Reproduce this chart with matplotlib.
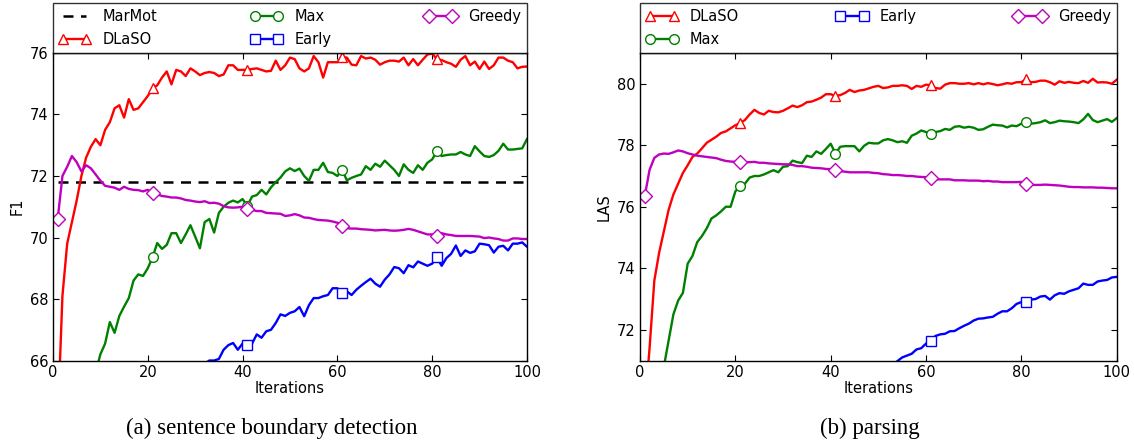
"""
Learning curves for sentence boundary detection (F1) and parsing (LAS).
Two panels, legend boxed above each axes, captions underneath.
"""
import numpy as np
import matplotlib
matplotlib.use("Agg")
import matplotlib.pyplot as plt

NAN = np.nan
ITERS = list(range(1, 101))

# ---- (a) sentence boundary detection, F1 ----
SBD_MARMOT = [71.8] * 100
SBD_DLASO = [
    64.0, 68.1, 69.8, 70.5, 71.2, 72.0, 72.6, 72.95, 73.2, 73.0,
    73.5, 73.75, 74.2, 74.3, 73.9, 74.5, 74.15, 74.2, 74.4, 74.6,
    74.85, 74.95, 75.2, 75.4, 74.98, 75.45, 75.4, 75.25, 75.5, 75.4,
    75.28, 75.35, 75.38, 75.35, 75.25, 75.3, 75.6, 75.6, 75.45, 75.45,
    75.45, 75.48, 75.5, 75.45, 75.4, 75.42, 75.75, 75.45, 75.6, 75.85,
    75.8, 75.5, 75.4, 75.5, 75.9, 75.7, 75.2, 75.7, 75.7, 75.7,
    75.87, 75.85, 75.62, 75.6, 75.9, 75.82, 75.85, 75.78, 75.62, 75.7,
    75.75, 75.75, 75.72, 75.85, 75.6, 75.8, 75.6, 75.78, 75.95, 75.98,
    75.8, 75.77, 75.7, 75.65, 75.55, 75.78, 75.9, 75.6, 75.72, 75.48,
    75.72, 75.48, 75.6, 75.85, 75.85, 75.75, 75.7, 75.5, 75.55, 75.56,
]
SBD_MAX = [
    NAN, NAN, NAN, NAN, NAN, NAN, NAN, NAN, 65.6, 66.2,
    66.55, 67.25, 66.9, 67.45, 67.75, 68.03, 68.6, 68.8, 68.75, 69.0,
    69.35, 69.82, 69.63, 69.76, 70.14, 70.14, 69.82, 70.1, 70.4, 70.03,
    69.65, 70.5, 70.6, 70.16, 70.8, 71.0, 71.13, 71.2, 71.14, 71.25,
    71.03, 71.33, 71.38, 71.55, 71.4, 71.63, 71.8, 71.95, 72.15, 72.25,
    72.16, 72.24, 72.0, 71.84, 72.2, 72.2, 72.43, 72.13, 72.1, 72.0,
    72.2, 71.86, 71.94, 72.0, 72.05, 72.32, 72.2, 72.4, 72.3, 72.5,
    72.35, 72.2, 72.0, 72.38, 72.2, 72.1, 72.35, 72.2, 72.43, 72.54,
    72.8, 72.65, 72.68, 72.7, 72.7, 72.78, 72.7, 72.65, 72.97, 72.8,
    72.65, 72.62, 72.68, 72.82, 73.05, 72.86, 72.86, 72.88, 72.9, 73.2,
]
SBD_EARLY = [
    NAN, NAN, NAN, NAN, NAN, NAN, NAN, NAN, NAN, NAN,
    NAN, NAN, NAN, NAN, NAN, NAN, NAN, NAN, NAN, NAN,
    NAN, NAN, NAN, NAN, NAN, NAN, NAN, NAN, NAN, NAN,
    NAN, 65.9, 66.0, 66.0, 66.05, 66.35, 66.5, 66.57, 66.35, 66.55,
    66.5, 66.55, 66.85, 66.74, 66.95, 67.0, 67.22, 67.5, 67.45, 67.55,
    67.6, 67.74, 67.44, 67.8, 68.03, 68.03, 68.09, 68.13, 68.35, 68.35,
    68.2, 68.25, 68.13, 68.3, 68.43, 68.55, 68.66, 68.5, 68.4, 68.63,
    68.8, 69.04, 69.0, 68.84, 69.1, 69.03, 69.22, 69.15, 69.08, 69.15,
    69.35, 69.08, 69.33, 69.47, 69.74, 69.4, 69.58, 69.5, 69.55, 69.8,
    69.78, 69.75, 69.51, 69.7, 69.73, 69.58, 69.8, 69.8, 69.84, 69.7,
]
SBD_GREEDY = [
    70.6, 72.0, 72.3, 72.65, 72.45, 72.15, 72.35, 72.25, 72.05, 71.85,
    71.68, 71.65, 71.62, 71.55, 71.65, 71.58, 71.55, 71.54, 71.5, 71.55,
    71.45, 71.4, 71.35, 71.33, 71.3, 71.3, 71.27, 71.22, 71.2, 71.17,
    71.15, 71.18, 71.12, 71.13, 71.1, 71.02, 70.98, 70.97, 70.98, 71.0,
    70.92, 70.9, 70.86, 70.86, 70.8, 70.79, 70.78, 70.77, 70.7, 70.72,
    70.76, 70.72, 70.65, 70.64, 70.6, 70.57, 70.56, 70.55, 70.52, 70.48,
    70.38, 70.3, 70.29, 70.29, 70.27, 70.26, 70.25, 70.23, 70.24, 70.25,
    70.23, 70.22, 70.23, 70.25, 70.28, 70.25, 70.2, 70.15, 70.1, 70.1,
    70.05, 70.14, 70.1, 70.08, 70.05, 70.05, 70.05, 70.05, 70.04, 70.03,
    69.98, 70.0, 69.97, 69.95, 69.9, 69.9, 69.97, 69.97, 69.95, 69.95,
]

# ---- (b) parsing, LAS ----
PAR_DLASO = [
    69.5, 71.4, 73.6, 74.5, 75.2, 75.9, 76.4, 76.75, 77.1, 77.35,
    77.62, 77.73, 77.9, 78.08, 78.18, 78.28, 78.4, 78.45, 78.55, 78.65,
    78.72, 78.82, 79.0, 79.15, 79.05, 79.0, 79.12, 79.08, 79.07, 79.12,
    79.2, 79.29, 79.24, 79.3, 79.4, 79.42, 79.48, 79.55, 79.66, 79.66,
    79.6, 79.63, 79.7, 79.8, 79.73, 79.78, 79.8, 79.85, 79.9, 79.93,
    79.86, 79.88, 79.93, 79.93, 79.95, 79.93, 79.83, 79.93, 79.9, 79.97,
    79.95, 79.86, 79.84, 79.97, 80.02, 80.02, 80.0, 80.0, 80.02, 79.98,
    80.02, 79.98, 80.02, 79.99, 79.95, 79.98, 80.02, 80.0, 80.05, 80.05,
    80.15, 80.05, 80.06, 80.1, 80.1, 80.05, 79.97, 80.08, 80.03, 80.06,
    80.03, 80.02, 80.09, 80.03, 80.16, 80.04, 80.05, 80.04, 80.0, 80.13,
]
PAR_MAX = [
    NAN, NAN, NAN, NAN, 70.8, 71.65, 72.5, 72.95, 73.2, 74.15,
    74.4, 74.85, 75.05, 75.3, 75.62, 75.72, 75.85, 76.0, 76.0, 76.5,
    76.67, 76.75, 76.95, 77.0, 77.0, 77.05, 77.12, 77.19, 77.12, 77.3,
    77.32, 77.5, 77.45, 77.42, 77.66, 77.62, 77.8, 77.72, 77.88, 78.05,
    77.73, 77.95, 77.97, 77.97, 77.97, 77.8, 77.98, 78.08, 78.06, 78.06,
    78.16, 78.2, 78.16, 78.1, 78.13, 78.08, 78.31, 78.38, 78.48, 78.43,
    78.38, 78.43, 78.46, 78.53, 78.5, 78.6, 78.62, 78.57, 78.6, 78.57,
    78.5, 78.52, 78.6, 78.67, 78.65, 78.64, 78.58, 78.64, 78.62, 78.7,
    78.75, 78.7, 78.72, 78.75, 78.81, 78.72, 78.75, 78.8, 78.78, 78.77,
    78.75, 78.72, 78.84, 79.02, 78.82, 78.75, 78.8, 78.85, 78.76, 78.88,
]
PAR_EARLY = [NAN] * 53 + [
    70.98, 71.1, 71.16, 71.22, 71.36, 71.4, 71.55, 71.65, 71.8, 71.85,
    71.87, 71.95, 71.96, 72.05, 72.13, 72.2, 72.3, 72.36, 72.37, 72.4,
    72.42, 72.52, 72.6, 72.6, 72.7, 72.84, 72.9, 72.9, 72.98, 73.0,
    73.08, 73.1, 72.98, 73.12, 73.19, 73.17, 73.25, 73.3, 73.35, 73.5,
    73.46, 73.46, 73.57, 73.6, 73.62, 73.7, 73.72,
]
PAR_GREEDY = [
    76.35, 77.2, 77.59, 77.7, 77.73, 77.72, 77.77, 77.83, 77.8, 77.74,
    77.7, 77.66, 77.64, 77.62, 77.6, 77.58, 77.53, 77.49, 77.47, 77.46,
    77.46, 77.45, 77.45, 77.46, 77.43, 77.43, 77.41, 77.4, 77.39, 77.38,
    77.38, 77.36, 77.32, 77.32, 77.3, 77.27, 77.26, 77.25, 77.23, 77.22,
    77.21, 77.16, 77.14, 77.12, 77.12, 77.12, 77.12, 77.12, 77.1, 77.09,
    77.06, 77.05, 77.03, 77.03, 77.02, 77.0, 77.0, 76.98, 76.97, 76.96,
    76.94, 76.89, 76.89, 76.89, 76.89, 76.86, 76.86, 76.86, 76.85, 76.85,
    76.85, 76.83, 76.84, 76.82, 76.82, 76.8, 76.8, 76.8, 76.8, 76.81,
    76.75, 76.71, 76.71, 76.71, 76.72, 76.71, 76.7, 76.69, 76.67, 76.65,
    76.64, 76.64, 76.63, 76.63, 76.63, 76.62, 76.62, 76.61, 76.6, 76.6,
]

RED, GREEN, BLUE, MAGENTA = "#ff0000", "#008000", "#0000ff", "#bf00bf"
LW = 1.7
MS = 7


def curve(ax, y, color, marker, label):
    ax.plot(ITERS, y, color=color, lw=LW, marker=marker, markersize=MS,
            markerfacecolor="white", markeredgecolor=color, markeredgewidth=1.0,
            markevery=20, label=label)


def style_axes(ax, ylim, yticks, ylabel):
    ax.set_xlim(0, 100)
    ax.set_ylim(*ylim)
    ax.set_xticks([0, 20, 40, 60, 80, 100])
    ax.set_yticks(yticks)
    ax.tick_params(direction="in", top=True, right=True, length=4,
                   labelsize=10.5, colors="black", pad=3)
    ax.set_xlabel("Iterations", fontsize=10.5, labelpad=1)
    ax.set_ylabel(ylabel, fontsize=10.5, labelpad=4)
    for sp in ax.spines.values():
        sp.set_linewidth(1.0)
    leg = ax.legend(bbox_to_anchor=(0.0, 1.0, 1.0, 0.15), loc="lower left",
                    ncol=3, mode="expand", borderaxespad=0.0, numpoints=2,
                    fontsize=10.5, fancybox=False, handlelength=2.2,
                    labelspacing=0.55, borderpad=0.4)
    leg.get_frame().set_edgecolor("black")
    leg.get_frame().set_linewidth(1.0)


fig = plt.figure(figsize=(11.34, 4.43), dpi=100)
ax1 = fig.add_axes([0.0467, 0.1862, 0.4180, 0.6942])
ax2 = fig.add_axes([0.5644, 0.1862, 0.4203, 0.6942])

ax1.plot(ITERS, SBD_MARMOT, color="black", lw=1.8, ls="--", dashes=(4, 3),
         label="MarMot")
curve(ax1, SBD_DLASO, RED, "^", "DLaSO")
curve(ax1, SBD_MAX, GREEN, "o", "Max")
curve(ax1, SBD_EARLY, BLUE, "s", "Early")
curve(ax1, SBD_GREEDY, MAGENTA, "D", "Greedy")
style_axes(ax1, (66, 76), [66, 68, 70, 72, 74, 76], "F1")

curve(ax2, PAR_DLASO, RED, "^", "DLaSO")
curve(ax2, PAR_MAX, GREEN, "o", "Max")
curve(ax2, PAR_EARLY, BLUE, "s", "Early")
curve(ax2, PAR_GREEDY, MAGENTA, "D", "Greedy")
style_axes(ax2, (71, 81), [72, 74, 76, 78, 80], "LAS")

fig.text(0.240, 0.034, "(a) sentence boundary detection", ha="center",
         va="center", fontsize=16.5, family="Liberation Serif")
fig.text(0.767, 0.034, "(b) parsing", ha="center", va="center",
         fontsize=16.5, family="Liberation Serif")

fig.savefig("out.png", dpi=100)
